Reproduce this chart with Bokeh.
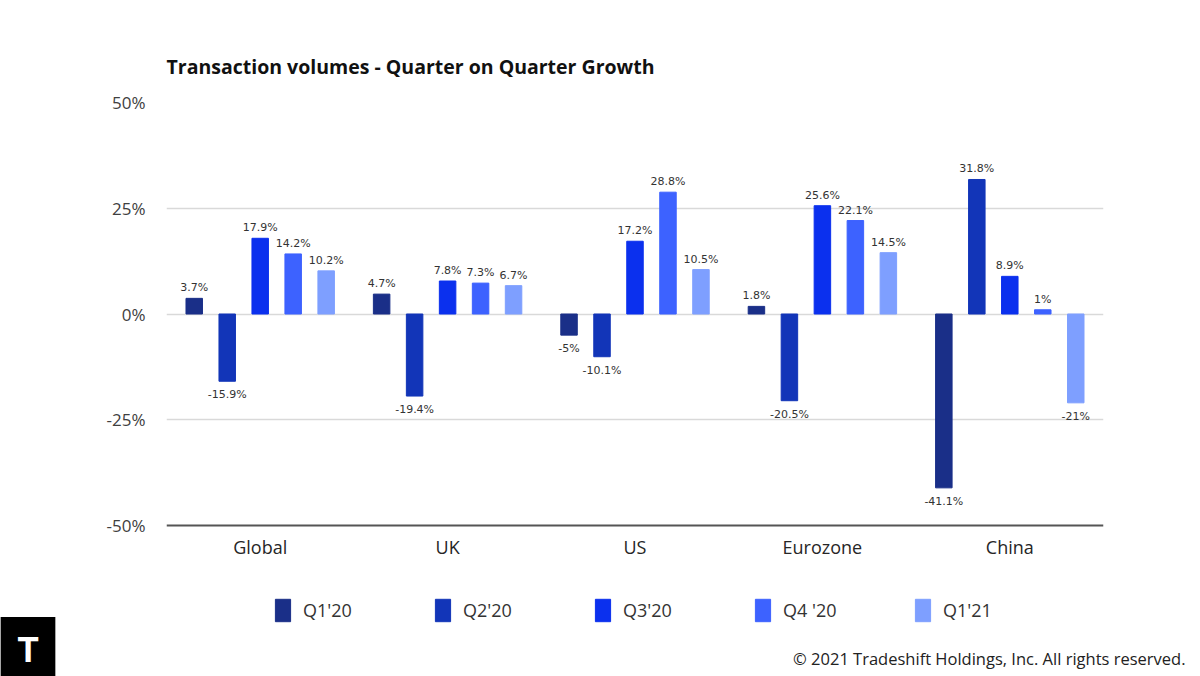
from bokeh.plotting import figure
from bokeh.models import (ColumnDataSource, FactorRange, Range1d, Legend, LegendItem, Label,
                          FixedTicker, PrintfTickFormatter)
from bokeh.transform import dodge
from bokeh.core.properties import value
from bokeh.embed import file_html
from bokeh.resources import INLINE

regions = ["Global", "UK", "US", "Eurozone", "China"]
quarters = ["Q1'20", "Q2'20", "Q3'20", "Q4 '20", "Q1'21"]
q1_20 = [3.7, 4.7, -5.0, 1.8, -41.1]
q2_20 = [-15.9, -19.4, -10.1, -20.5, 31.8]
q3_20 = [17.9, 7.8, 17.2, 25.6, 8.9]
q4_20 = [14.2, 7.3, 28.8, 22.1, 1.0]
q1_21 = [10.2, 6.7, 10.5, 14.5, -21.0]
y_ticks = [-50, -25, 0, 25, 50]
title_text = "Transaction volumes - Quarter on Quarter Growth"
footer_text = "\u00a9 2021 Tradeshift Holdings, Inc. All rights reserved."
logo_text = "T"

series = [q1_20, q2_20, q3_20, q4_20, q1_21]
colors = ["#1a2f88", "#1235b8", "#0b30ee", "#3d62ff", "#7e9fff"]
offsets = [-0.352, -0.176, 0.0, 0.176, 0.352]
bar_w = 0.088

# layout in pixels: plot frame spans x 166..1103, y 102..626; -50..50 maps to 525..102
FRAME_TOP, AXIS_Y, FRAME_BOTTOM = 102, 525, 626
px_per_unit = (AXIS_Y - FRAME_TOP) / 100.0
y_start = 50 - (FRAME_BOTTOM - FRAME_TOP) / px_per_unit

p = figure(width=1200, height=676, x_range=FactorRange(*regions),
           y_range=Range1d(y_start, 50),
           output_backend="svg", toolbar_location=None, title=title_text,
           min_border_left=166, min_border_right=97, min_border_top=FRAME_TOP,
           min_border_bottom=676 - FRAME_BOTTOM)
p.outline_line_color = None
p.background_fill_color = "white"
p.border_fill_color = "white"

p.title.align = "left"
p.title.text_font = "Open Sans"
p.title.text_font_style = "bold"
p.title.text_font_size = "19.5px"
p.title.text_color = "#111111"
p.title.standoff = 0

p.xgrid.grid_line_color = None
p.ygrid.grid_line_color = "#d9d9d9"
p.ygrid.grid_line_width = 1.5
p.ygrid.ticker = FixedTicker(ticks=y_ticks[1:])

p.yaxis.ticker = FixedTicker(ticks=y_ticks)
p.yaxis.formatter = PrintfTickFormatter(format="%d%%")
p.yaxis.axis_line_color = None
p.yaxis.major_tick_line_color = None
p.yaxis.minor_tick_line_color = None
p.yaxis.major_tick_out = 0
p.yaxis.major_label_standoff = 21
p.yaxis.major_label_text_font = "Open Sans"
p.yaxis.major_label_text_font_size = "17px"
p.yaxis.major_label_text_color = "#404040"

p.xaxis.fixed_location = y_ticks[0]
p.xaxis.axis_line_color = "#555555"
p.xaxis.axis_line_width = 2
p.xaxis.major_tick_line_color = None
p.xaxis.minor_tick_line_color = None
p.xaxis.major_tick_out = 0
p.xaxis.major_label_standoff = 9
p.xaxis.major_label_text_font = "Open Sans"
p.xaxis.major_label_text_font_size = "18px"
p.xaxis.major_label_text_color = "#262626"

items = []
for i, (vals, q) in enumerate(zip(series, quarters)):
    src = ColumnDataSource(dict(region=regions, val=vals))
    r = p.vbar(x=dodge("region", offsets[i], range=p.x_range), top="val", bottom=0,
               width=bar_w, source=src, fill_color=colors[i], line_color=colors[i])
    items.append(LegendItem(label=q, renderers=[r]))
    pos = ColumnDataSource(dict(region=[g for g, v in zip(regions, vals) if v >= 0],
                                val=[v for v in vals if v >= 0],
                                lab=[f"{v:g}%" for v in vals if v >= 0]))
    neg = ColumnDataSource(dict(region=[g for g, v in zip(regions, vals) if v < 0],
                                val=[v for v in vals if v < 0],
                                lab=[f"{v:g}%" for v in vals if v < 0]))
    for s, base, off in ((pos, "bottom", -4), (neg, "top", 7)):
        p.text(x=dodge("region", offsets[i], range=p.x_range), y="val", text="lab", source=s,
               text_align="center", text_baseline=base, y_offset=off,
               text_font=value("DejaVu Sans"), text_font_size="11px", text_color="#333333")

legend = Legend(items=items, orientation="horizontal", location=(107, 2),
                glyph_width=19, glyph_height=28, label_standoff=11, label_width=100,
                spacing=30, padding=0, margin=0, border_line_color=None,
                background_fill_alpha=0, label_text_font="Open Sans",
                label_text_font_size="18px", label_text_color="#333333")
p.add_layout(legend)

p.add_layout(Label(x=1185, y=658, x_units="canvas", y_units="canvas", text=footer_text,
                   text_font="Open Sans", text_font_size="16.5px", text_color="#222222",
                   text_align="right", text_baseline="middle"), "above")
p.add_layout(Label(x=27.5, y=649, x_units="canvas", y_units="canvas", text=logo_text,
                   text_font="Inter", text_font_style="bold", text_font_size="34px",
                   text_color="white", text_align="center", text_baseline="middle",
                   background_fill_color="black", padding=(16, 12)), "left")

open("out.html", "w").write(file_html(p, INLINE))
